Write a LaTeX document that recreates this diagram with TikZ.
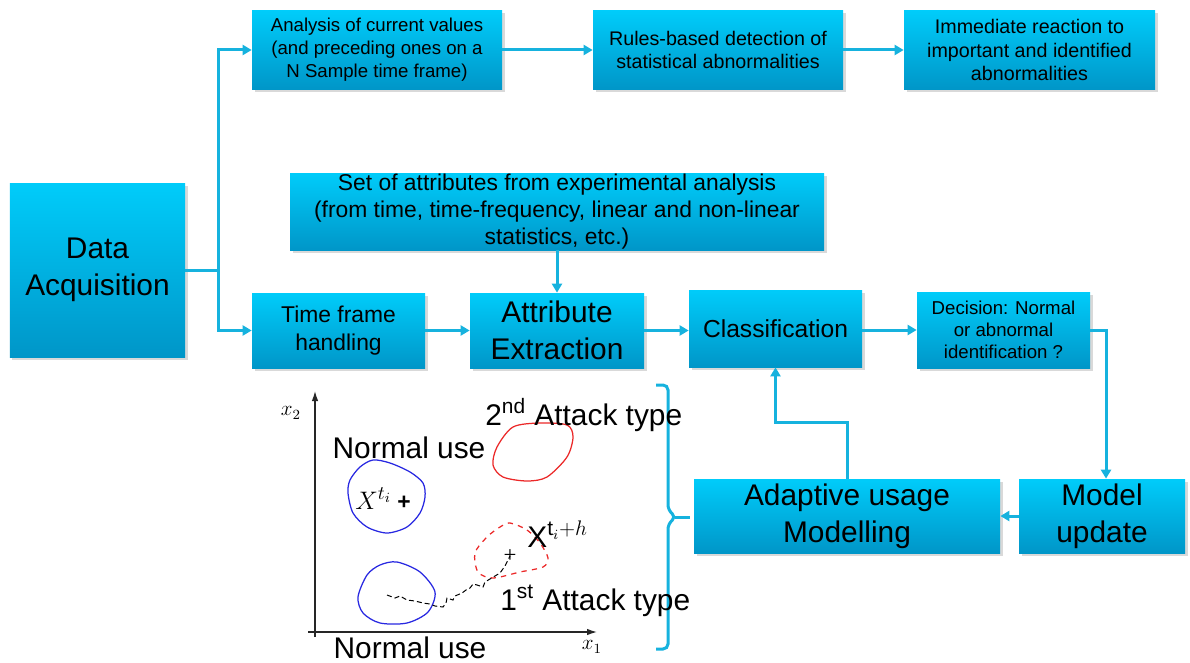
\documentclass[tikz,border=0pt]{standalone}
\usepackage{fontspec}
\setmainfont{Liberation Sans}
\newfontfamily\serifplot{Liberation Serif}
\usepackage{tikz}
\usetikzlibrary{arrows.meta, shadows}

\definecolor{boxtop}{RGB}{0,204,250}
\definecolor{boxbottom}{RGB}{0,150,200}
\definecolor{flowcol}{RGB}{22,178,222}
\definecolor{normblue}{RGB}{40,40,225}
\definecolor{attackred}{RGB}{235,40,40}

\begin{document}
\begin{tikzpicture}[x=0.2mm,y=-0.2mm,>={Triangle[length=1.8mm,width=2mm]},
		block/.style={rectangle,inner sep=0pt,align=center,top color=boxtop,bottom color=boxbottom,
			drop shadow={shadow xshift=0.5mm,shadow yshift=-0.5mm,opacity=0.3}},
		flowline/.style={->,draw=flowcol,line width=0.6mm},
		hugetext/.style={font=\fontsize{17}{21}\selectfont},
		midtext/.style={font=\fontsize{13}{15.5}\selectfont},
		smalltext/.style={font=\fontsize{11.2}{13.2}\selectfont},
		plotlabel/.style={font=\fontsize{17}{20}\selectfont,inner sep=0pt},
		blob/.style={line width=0.25mm},
		axis/.style={->,>={Latex[length=2mm,width=1.3mm]},line width=0.25mm,draw=black!85}]
	\useasboundingbox (0,0) rectangle (1190,662);
	\node[block, hugetext,  minimum width=35mm,   minimum height=34.8mm] (data)     at (97.5,270)   {Data\\Acquisition};
	\node[block, smalltext, minimum width=50mm,   minimum height=15.6mm, font=\fontsize{10.6}{13}\selectfont] (analysis) at (377,50) {Analysis of current values\\(and preceding ones on a\\N Sample time frame)};
	\node[block, smalltext, minimum width=50mm,   minimum height=15.6mm] (rules)    at (718,50)     {Rules-based detection of\\statistical abnormalities};
	\node[block, smalltext, minimum width=50.2mm, minimum height=15.6mm] (react)    at (1029.5,50)  {Immediate reaction to\\important and identified\\abnormalities};
	\node[block, midtext,   minimum width=106.8mm,minimum height=15.4mm] (attrset)  at (557,211.5)  {Set of attributes from experimental analysis\\(from time, time-frequency, linear and non-linear\\statistics, etc.)};
	\node[block, midtext,   minimum width=34.6mm, minimum height=15mm, font=\fontsize{13}{16}\selectfont] (frame) at (338.5,330.5) {Time frame\\handling};
	\node[block, hugetext,  minimum width=34.8mm, minimum height=15mm]   (extract)  at (557,330.5)  {Attribute\\Extraction};
	\node[block, minimum width=34.6mm, minimum height=15.4mm, font=\fontsize{14}{17}\selectfont] (classif) at (775.5,328.5) {Classification};
	\node[block, smalltext, minimum width=34.6mm, minimum height=15.2mm, font=\fontsize{10.6}{12.6}\selectfont] (decision) at (1003.5,330) {Decision: Normal\\or abnormal\\identification ?};
	\node[block, hugetext,  minimum width=61.2mm, minimum height=14.8mm] (adaptive) at (847,516)     {Adaptive usage\\Modelling};
	\node[block, hugetext,  minimum width=33.2mm, minimum height=14.8mm] (update)   at (1102,516)    {Model\\update};
	\coordinate (bus) at (218,270);
	\draw[flowline,-] (data.east) -- (bus);
	\draw[flowline] (bus) |- (analysis.west);
	\draw[flowline] (bus) |- (frame.west);
	\draw[flowline] (analysis) -- (rules);
	\draw[flowline] (rules) -- (react);
	\draw[flowline] (attrset) -- (extract);
	\draw[flowline] (frame) -- (extract);
	\draw[flowline] (extract.east) -- (classif.west |- extract.east);
	\draw[flowline] (classif.east |- decision.west) -- (decision.west);
	\draw[flowline] (decision.east) -| ([xshift=0.8mm]update.north);
	\draw[flowline] (update.west) -- (adaptive.east);
	\draw[flowline] (adaptive.north) -- ++(0,-56) -| (classif.south);
	\draw[draw=flowcol,line width=0.6mm,rounded corners=1mm] (656,385) -- (668,385) -- (668,510) -- (676,517) -- (668,524) -- (668,649) -- (656,649);
	\draw[draw=flowcol,line width=0.6mm] (675,517) -- (690,517);
	\draw[axis] (315,637) -- (315,391);
	\draw[axis] (308,632) -- (597,632);
	\draw[blob, normblue] plot[smooth cycle] coordinates {(373,460) (390,463) (410,472) (423,483) (425,497) (420,513) (407,527) (387,533) (367,527) (353,513) (348,493) (350,480) (360,467)};
	\draw[blob, normblue] plot[smooth cycle] coordinates {(397,562) (420,572) (435,592) (428,612) (407,623) (380,623) (363,613) (358,597) (367,575) (380,565)};
	\draw[blob, attackred] plot[smooth cycle] coordinates {(513,427) (540,423) (567,425) (573,437) (567,457) (547,477) (527,481) (503,477) (493,465) (497,447)};
	\draw[blob, attackred, dashed] plot[smooth cycle] coordinates {(510,523) (527,530) (540,543) (548,558) (543,567) (520,572) (493,578) (478,572) (475,553) (487,537) (500,527)};
	\draw[line width=0.2mm, dash pattern=on 1mm off 0.6mm] plot coordinates {(387,595) (395,598) (400,596) (407,600) (415,601) (423,603) (430,604) (435,606) (443,607) (446,603) (447,598) (453,600) (455,596) (462,593) (466,590) (470,588) (473,584) (477,585) (483,587) (485,582) (490,579) (500,573) (505,566) (510,556)};
	\node[plotlabel, anchor=base]      (usetop)    at (409,458) {Normal use};
	\node[plotlabel, anchor=base]      (usebottom) at (410,658) {Normal use};
	\node[plotlabel, anchor=base west] (attack2)   at (485,425) {2\textsuperscript{nd} Attack type};
	\node[plotlabel, anchor=base west] (attack1)   at (500,610) {1\textsuperscript{st} Attack type};
	\node[font=\fontsize{12}{14}\selectfont] (xtwo) at (291,413) {$x_2$};
	\node[font=\fontsize{12}{14}\selectfont] (xone) at (592,647) {$x_1$};
	\node[anchor=base west, inner sep=0pt, font=\fontsize{15.5}{18}\selectfont] (xti)  at (355,509) {$X^{t_i}$};
	\node[font=\fontsize{13}{15}\selectfont\bfseries] (plusA) at (404,503) {+};
	\node[anchor=base west, inner sep=0pt, font=\fontsize{17}{19}\selectfont] (xtih) at (527,547) {$\mathrm{X}^{\mathrm{t}_i+h}$};
	\node[font=\fontsize{13}{15}\selectfont\serifplot] (plusB) at (510,556) {+};
\end{tikzpicture}
\end{document}
